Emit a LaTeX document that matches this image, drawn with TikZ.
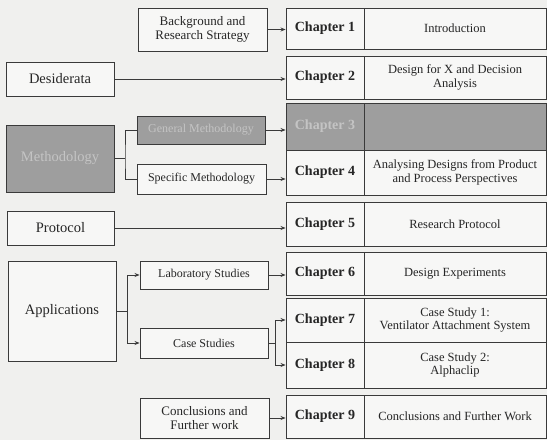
\documentclass[tikz,border=0pt]{standalone}
\usepackage{fontspec}
\setmainfont{Liberation Serif}
\usetikzlibrary{arrows.meta}
\definecolor{paper}{HTML}{F0F0EE}
\definecolor{boxfill}{HTML}{F7F7F6}
\definecolor{ink}{HTML}{3A3A3A}
\definecolor{shade}{HTML}{9E9E9E}
\definecolor{shadetext}{HTML}{C4C4C4}
\tikzset{
  box/.style={draw=ink, line width=0.9pt, fill=boxfill, inner sep=1pt, align=center,
              text=black!85, font=\fontsize{12}{13.5}\selectfont},
  bigbox/.style={box, font=\fontsize{14.5}{16}\selectfont},
  midbox/.style={box, font=\fontsize{13}{14}\selectfont},
  greybox/.style={fill=shade, text=shadetext},
  chapcell/.style={box, minimum width=78pt, font=\bfseries\fontsize{14}{16}\selectfont},
  titlecell/.style={box, minimum width=182pt, font=\fontsize{12.5}{13.5}\selectfont},
  conn/.style={draw=ink, line width=0.75pt},
  arr/.style={conn, -{Stealth[length=5pt,width=4pt]}}
}
\begin{document}
\begin{tikzpicture}[x=1pt,y=-1pt]
  \fill[paper] (0,0) rectangle (547,440);
  \useasboundingbox (0,0) rectangle (547,440);

  % chapter column: number cell and title cell per row
  \node[chapcell, minimum height=41pt] (ch1) at (325,28.5) {Chapter 1};
  \node[titlecell, minimum height=41pt] (t1) at (455,28.5) {Introduction};
  \node[chapcell, minimum height=43pt] (ch2) at (325,77.5) {Chapter 2};
  \node[titlecell, minimum height=43pt] (t2) at (455,77.5) {Design for X and Decision\\Analysis};
  \node[chapcell, greybox, minimum height=47pt] (ch3) at (325,126.5) {Chapter 3};
  \node[titlecell, greybox, minimum height=47pt] (t3) at (455,126.5) {};
  \node[chapcell, minimum height=45pt] (ch4) at (325,172.5) {Chapter 4};
  \node[titlecell, minimum height=45pt] (t4) at (455,172.5) {Analysing Designs from Product\\and Process Perspectives};
  \node[chapcell, minimum height=44pt] (ch5) at (325,224) {Chapter 5};
  \node[titlecell, minimum height=44pt] (t5) at (455,224) {Research Protocol};
  \node[chapcell, minimum height=43pt] (ch6) at (325,273.5) {Chapter 6};
  \node[titlecell, minimum height=43pt] (t6) at (455,273.5) {Design Experiments};
  \node[chapcell, minimum height=44pt] (ch7) at (325,320) {Chapter 7};
  \node[titlecell, minimum height=44pt] (t7) at (455,320) {Case Study 1:\\Ventilator Attachment System};
  \node[chapcell, minimum height=46pt] (ch8) at (325,365) {Chapter 8};
  \node[titlecell, minimum height=46pt] (t8) at (455,365) {Case Study 2:\\Alphaclip};
  \node[chapcell, minimum height=43pt] (ch9) at (325,416.5) {Chapter 9};
  \node[titlecell, minimum height=43pt] (t9) at (455,416.5) {Conclusions and Further Work};

  % left column: themes
  \node[bigbox, minimum width=108pt, minimum height=34pt] (desid) at (60,79) {Desiderata};
  \node[bigbox, greybox, minimum width=108pt, minimum height=67pt] (meth) at (60,158.5) {Methodology};
  \node[bigbox, minimum width=107pt, minimum height=34pt] (proto) at (60.5,228) {Protocol};
  \node[bigbox, minimum width=108pt, minimum height=100pt] (appl) at (62,311) {Applications};

  % middle column: parts
  \node[midbox, minimum width=129pt, minimum height=43pt] (bg) at (202.5,29.5) {Background and\\Research Strategy};
  \node[box, greybox, minimum width=128pt, minimum height=28pt] (genm) at (201,130) {General Methodology};
  \node[box, minimum width=129pt, minimum height=30pt] (specm) at (201.5,179) {Specific Methodology};
  \node[box, minimum width=128pt, minimum height=28pt] (lab) at (204,275) {Laboratory Studies};
  \node[box, minimum width=128pt, minimum height=30pt] (case) at (204,343) {Case Studies};
  \node[midbox, minimum width=129pt, minimum height=40pt] (concl) at (204.5,418) {Conclusions and\\Further work};

  % branch points
  \coordinate (mfork) at (125,158.5);
  \coordinate (afork) at (127,311);
  \coordinate (cfork) at (275,343);

  % connectors
  \draw[arr] (bg.east) -- (bg.east -| ch1.west);
  \draw[arr] (desid.east) -- (desid.east -| ch2.west);
  \draw[conn] (meth.east) -- (mfork);
  \draw[conn] (genm.west) -| (mfork) |- (specm.west);
  \draw[arr] (genm.east) -- (genm.east -| ch3.west);
  \draw[arr] (specm.east) -- (specm.east -| ch4.west);
  \draw[arr] (proto.east) -- (proto.east -| ch5.west);
  \draw[conn] (appl.east) -- (afork);
  \draw[arr] (afork) |- (lab.west);
  \draw[arr] (afork) |- (case.west);
  \draw[arr] (lab.east) -- (lab.east -| ch6.west);
  \draw[conn] (case.east) -- (cfork);
  \draw[arr] (cfork) |- (ch7.west);
  \draw[arr] (cfork) |- (ch8.west);
  \draw[arr] (concl.east) -- (concl.east -| ch9.west);
\end{tikzpicture}
\end{document}
